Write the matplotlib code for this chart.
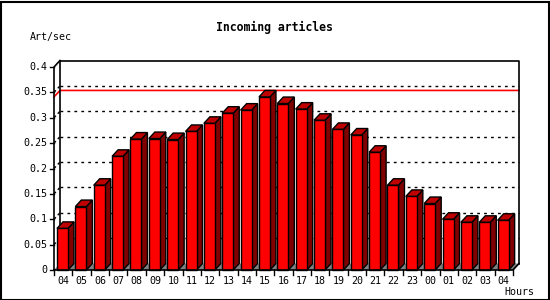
import matplotlib
matplotlib.use("Agg")
import matplotlib.pyplot as plt
from matplotlib.patches import Polygon, Rectangle

hours = ["04", "05", "06", "07", "08", "09", "10", "11", "12", "13", "14", "15",
         "16", "17", "18", "19", "20", "21", "22", "23", "00", "01", "02", "03", "04"]
values = [0.082, 0.125, 0.167, 0.224, 0.258, 0.259, 0.257, 0.273, 0.289, 0.309,
          0.315, 0.341, 0.328, 0.317, 0.295, 0.277, 0.266, 0.232, 0.167, 0.145,
          0.131, 0.100, 0.094, 0.094, 0.098]
yticks = [0, 0.05, 0.1, 0.15, 0.2, 0.25, 0.3, 0.35, 0.4]
ytick_labels = ["0", "0.05", "0.1", "0.15", "0.2", "0.25", "0.3", "0.35", "0.4"]
title = "Incoming articles"
ylabel = "Art/sec"
xlabel = "Hours"

W, H = 550, 300
fig = plt.figure(figsize=(5.5, 3.0), dpi=100)
fig.patch.set_facecolor("white")

# front plot area in pixels
x0p, x1p, y0p, y1p = 54, 513, 270, 67
ax = fig.add_axes([x0p / W, 1 - y0p / H, (x1p - x0p) / W, (y0p - y1p) / H])
n = len(values)
ymax = 0.4
ax.set_xlim(0, n)
ax.set_ylim(0, ymax)
ax.axis("off")

pxu = (x1p - x0p) / n          # px per x unit
pyu = (y0p - y1p) / ymax       # px per y unit
dx = 6 / pxu
dy = 6.5 / pyu

mono = "DejaVu Sans Mono"
lw = 1.0

def poly(pts, fc, ec="black", z=2, lwid=lw):
    p = Polygon(pts, closed=True, facecolor=fc, edgecolor=ec, linewidth=lwid,
                zorder=z, clip_on=False, joinstyle="miter")
    ax.add_patch(p)

# floor
poly([(0, 0), (n, 0), (n + dx, dy), (dx, dy)], "#808080", ec="none", z=1)

# gridlines on back wall and left side wall
for v in yticks[1:-1]:
    ax.plot([dx, n + dx], [v + dy, v + dy], color="black", lw=1.0,
            linestyle=(0, (2, 3)), zorder=1.5, clip_on=False)
    ax.plot([0, dx], [v, v + dy], color="black", lw=1.0,
            linestyle=(0, (2, 2)), zorder=1.5, clip_on=False)

# max line
mx = max(values)
ax.plot([0, dx, n + dx], [mx, mx + dy, mx + dy], color="red", lw=1.2,
        zorder=1.6, clip_on=False)

# back wall frame
ax.plot([dx, dx, n + dx, n + dx], [dy, ymax + dy, ymax + dy, dy],
        color="black", lw=1.2, zorder=1.7, clip_on=False)

# bars
off = 3 / pxu
bw = 11 / pxu
for i, v in enumerate(values):
    xl = i + off
    xr = xl + bw
    # side
    poly([(xr, 0), (xr + dx, dy), (xr + dx, v + dy), (xr, v)], "#800000", z=3)
    # top
    poly([(xl, v), (xr, v), (xr + dx, v + dy), (xl + dx, v + dy)], "#C00000", z=3)
    # front
    poly([(xl, 0), (xr, 0), (xr, v), (xl, v)], "#FF0000", z=4)

# front axes
ax.plot([0, 0, dx], [0, ymax, ymax + dy], color="black", lw=1.2, zorder=5, clip_on=False)
ax.plot([0, n, n + dx], [0, 0, dy], color="black", lw=1.2, zorder=5, clip_on=False)

# y ticks and labels
tl = 4 / pxu
for v, lab in zip(yticks, ytick_labels):
    ax.plot([-tl, 0], [v, v], color="black", lw=1.0, zorder=5, clip_on=False)
    ax.text(-7 / pxu, v, lab, ha="right", va="center", family=mono,
            fontsize=7.2, color="black")

# x ticks and labels
tly = 5 / pyu
for i in range(n + 1):
    ax.plot([i, i], [0, -tly], color="black", lw=1.0, zorder=5, clip_on=False)
for i, lab in enumerate(hours):
    ax.text(i + 0.5, -6 / pyu, lab, ha="center", va="top", family=mono,
            fontsize=7.2, color="black")

fig.text(274 / W, 1 - 27 / H, title, ha="center", va="center", family=mono,
         fontweight="bold", fontsize=8.3)
fig.text(30 / W, 1 - 37 / H, ylabel, ha="left", va="center", family=mono, fontsize=7.2)
fig.text(504 / W, 1 - 292 / H, xlabel, ha="left", va="center", family=mono, fontsize=7.2)

# figure border
fig.add_artist(Rectangle((0.5 / W, 0.5 / H), 1 - 2 / W, 1 - 2 / H, transform=fig.transFigure,
                         fill=False, edgecolor="black", linewidth=1.5))

fig.savefig("out.png", dpi=100)
